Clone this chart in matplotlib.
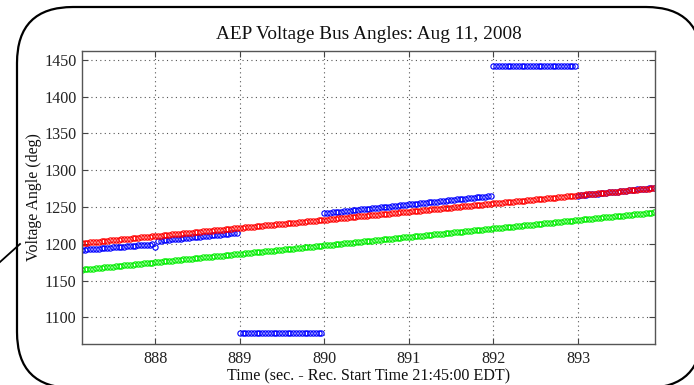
import numpy as np
import matplotlib
matplotlib.use("Agg")
import matplotlib.pyplot as plt
from matplotlib.patches import FancyBboxPatch
from matplotlib.lines import Line2D

# ---------------- data ----------------
title = "AEP Voltage Bus Angles: Aug 11, 2008"
xlabel = "Time (sec. - Rec. Start Time 21:45:00 EDT)"
ylabel = "Voltage Angle (deg)"
x_ticks = [888, 889, 890, 891, 892, 893]
y_ticks = [1100, 1150, 1200, 1250, 1300, 1350, 1400, 1450]

sample_rate = 30          # samples per second
first_sample = 887 + 4 / 30
n_samples = 204
time_s = first_sample + np.arange(n_samples) / sample_rate

red_angle = [
    1201.0, 1201.4, 1201.7, 1202.1, 1202.5, 1202.8, 1203.2, 1203.6, 1204.0, 1204.3,
    1204.7, 1205.1, 1205.4, 1205.8, 1206.2, 1206.5, 1206.9, 1207.3, 1207.6, 1208.0,
    1208.4, 1208.7, 1209.1, 1209.5, 1209.9, 1210.2, 1210.6, 1211.0, 1211.3, 1211.7,
    1212.1, 1212.4, 1212.8, 1213.2, 1213.5, 1213.9, 1214.3, 1214.7, 1215.0, 1215.4,
    1215.8, 1216.1, 1216.5, 1216.9, 1217.2, 1217.6, 1218.0, 1218.3, 1218.7, 1219.1,
    1219.5, 1219.8, 1220.2, 1220.6, 1220.9, 1221.3, 1221.7, 1222.0, 1222.4, 1222.8,
    1223.1, 1223.5, 1223.9, 1224.2, 1224.6, 1225.0, 1225.4, 1225.7, 1226.1, 1226.5,
    1226.8, 1227.2, 1227.6, 1227.9, 1228.3, 1228.7, 1229.0, 1229.4, 1229.8, 1230.2,
    1230.5, 1230.9, 1231.3, 1231.6, 1232.0, 1232.4, 1232.7, 1233.1, 1233.5, 1233.8,
    1234.2, 1234.6, 1234.9, 1235.3, 1235.7, 1236.1, 1236.4, 1236.8, 1237.2, 1237.5,
    1237.9, 1238.3, 1238.6, 1239.0, 1239.4, 1239.7, 1240.1, 1240.5, 1240.9, 1241.2,
    1241.6, 1242.0, 1242.3, 1242.7, 1243.1, 1243.4, 1243.8, 1244.2, 1244.5, 1244.9,
    1245.3, 1245.6, 1246.0, 1246.4, 1246.8, 1247.1, 1247.5, 1247.9, 1248.2, 1248.6,
    1249.0, 1249.3, 1249.7, 1250.1, 1250.4, 1250.8, 1251.2, 1251.6, 1251.9, 1252.3,
    1252.7, 1253.0, 1253.4, 1253.8, 1254.1, 1254.5, 1254.9, 1255.2, 1255.6, 1256.0,
    1256.4, 1256.7, 1257.1, 1257.5, 1257.8, 1258.2, 1258.6, 1258.9, 1259.3, 1259.7,
    1260.0, 1260.4, 1260.8, 1261.1, 1261.5, 1261.9, 1262.3, 1262.6, 1263.0, 1263.4,
    1263.7, 1264.1, 1264.5, 1264.8, 1265.2, 1265.6, 1265.9, 1266.3, 1266.7, 1267.1,
    1267.4, 1267.8, 1268.2, 1268.5, 1268.9, 1269.3, 1269.6, 1270.0, 1270.4, 1270.7,
    1271.1, 1271.5, 1271.8, 1272.2, 1272.6, 1273.0, 1273.3, 1273.7, 1274.1, 1274.4,
    1274.8, 1275.2, 1275.5, 1275.9,
]

green_angle = [
    1165.0, 1165.4, 1165.8, 1166.1, 1166.5, 1166.9, 1167.3, 1167.7, 1168.1, 1168.4,
    1168.8, 1169.2, 1169.6, 1170.0, 1170.4, 1170.7, 1171.1, 1171.5, 1171.9, 1172.3,
    1172.7, 1173.0, 1173.4, 1173.8, 1174.2, 1174.6, 1175.0, 1175.3, 1175.7, 1176.1,
    1176.5, 1176.9, 1177.3, 1177.6, 1178.0, 1178.4, 1178.8, 1179.2, 1179.6, 1179.9,
    1180.3, 1180.7, 1181.1, 1181.5, 1181.9, 1182.2, 1182.6, 1183.0, 1183.4, 1183.8,
    1184.2, 1184.5, 1184.9, 1185.3, 1185.7, 1186.1, 1186.4, 1186.8, 1187.2, 1187.6,
    1188.0, 1188.4, 1188.7, 1189.1, 1189.5, 1189.9, 1190.3, 1190.7, 1191.0, 1191.4,
    1191.8, 1192.2, 1192.6, 1193.0, 1193.3, 1193.7, 1194.1, 1194.5, 1194.9, 1195.3,
    1195.6, 1196.0, 1196.4, 1196.8, 1197.2, 1197.6, 1197.9, 1198.3, 1198.7, 1199.1,
    1199.5, 1199.9, 1200.2, 1200.6, 1201.0, 1201.4, 1201.8, 1202.2, 1202.5, 1202.9,
    1203.3, 1203.7, 1204.1, 1204.4, 1204.8, 1205.2, 1205.6, 1206.0, 1206.4, 1206.7,
    1207.1, 1207.5, 1207.9, 1208.3, 1208.7, 1209.0, 1209.4, 1209.8, 1210.2, 1210.6,
    1211.0, 1211.3, 1211.7, 1212.1, 1212.5, 1212.9, 1213.3, 1213.6, 1214.0, 1214.4,
    1214.8, 1215.2, 1215.6, 1215.9, 1216.3, 1216.7, 1217.1, 1217.5, 1217.9, 1218.2,
    1218.6, 1219.0, 1219.4, 1219.8, 1220.2, 1220.5, 1220.9, 1221.3, 1221.7, 1222.1,
    1222.5, 1222.8, 1223.2, 1223.6, 1224.0, 1224.4, 1224.7, 1225.1, 1225.5, 1225.9,
    1226.3, 1226.7, 1227.0, 1227.4, 1227.8, 1228.2, 1228.6, 1229.0, 1229.3, 1229.7,
    1230.1, 1230.5, 1230.9, 1231.3, 1231.6, 1232.0, 1232.4, 1232.8, 1233.2, 1233.6,
    1233.9, 1234.3, 1234.7, 1235.1, 1235.5, 1235.9, 1236.2, 1236.6, 1237.0, 1237.4,
    1237.8, 1238.2, 1238.5, 1238.9, 1239.3, 1239.7, 1240.1, 1240.5, 1240.8, 1241.2,
    1241.6, 1242.0, 1242.4, 1242.7,
]

blue_angle = (
    [1192.0, 1192.3, 1192.6, 1192.9, 1193.2, 1193.5, 1193.7, 1194.0, 1194.3, 1194.6,
     1194.9, 1195.2, 1195.5, 1195.8, 1196.1, 1196.4, 1196.6, 1196.9, 1197.2, 1197.5,
     1197.8, 1198.1, 1198.4, 1198.7, 1199.0, 1199.3]
    + [1196.0]
    + [1204.0, 1204.4, 1204.8, 1205.2, 1205.6, 1206.0, 1206.3, 1206.7, 1207.1, 1207.5,
       1207.9, 1208.3, 1208.7, 1209.1, 1209.5, 1209.9, 1210.2, 1210.6, 1211.0, 1211.4,
       1211.8, 1212.2, 1212.6, 1213.0, 1213.4, 1213.8, 1214.1, 1214.5, 1214.9]
    + [1079.0] * 30
    + [1241.5, 1241.9, 1242.3, 1242.7, 1243.1, 1243.5, 1243.9, 1244.3, 1244.7, 1245.1,
       1245.5, 1245.9, 1246.3, 1246.7, 1247.1, 1247.5, 1247.9, 1248.3, 1248.7, 1249.1,
       1249.5, 1249.9, 1250.3, 1250.7, 1251.1, 1251.5, 1251.9, 1252.3, 1252.7, 1253.1,
       1253.5, 1253.9, 1254.3, 1254.7, 1255.1, 1255.5, 1255.9, 1256.3, 1256.7, 1257.1,
       1257.5, 1257.9, 1258.3, 1258.7, 1259.1, 1259.5, 1259.9, 1260.3, 1260.7, 1261.1,
       1261.5, 1261.9, 1262.3, 1262.7, 1263.1, 1263.5, 1263.9, 1264.3, 1264.7, 1265.1]
    + [1441.0] * 30
    + [1265.5, 1265.9, 1266.3, 1266.7, 1267.1, 1267.5, 1267.9, 1268.3, 1268.7, 1269.1,
       1269.5, 1269.9, 1270.3, 1270.7, 1271.1, 1271.5, 1271.9, 1272.3, 1272.7, 1273.1,
       1273.5, 1273.9, 1274.3, 1274.7, 1275.1, 1275.5, 1275.9, 1276.3]
)

# ---------------- figure ----------------
plt.rcParams['font.family'] = ['Liberation Serif', 'DejaVu Serif']
W, H = 6.94, 3.85
fig = plt.figure(figsize=(W, H), dpi=100)
fig.patch.set_facecolor('white')

# rounded callout box (in inches, origin bottom-left)
box = FancyBboxPatch((0.17, -0.03), 6.85, 3.81,
                     boxstyle="round,pad=0,rounding_size=0.56",
                     transform=fig.dpi_scale_trans, facecolor='white',
                     edgecolor='black', linewidth=1.6, clip_on=False, zorder=0)
fig.add_artist(box)
fig.add_artist(Line2D([0.0, 0.2], [H - 2.62, H - 2.44], color='black',
                      linewidth=1.3, transform=fig.dpi_scale_trans))

ax = fig.add_axes([82 / 694, 41 / 385, (655 - 82) / 694, (344 - 51) / 385])
ax.set_facecolor('white')

mk = dict(linestyle='none', marker='o', markersize=3.8, markerfacecolor='none',
          markeredgewidth=0.8)
ax.plot(time_s, blue_angle, color='#0000ff', **mk)
ax.plot(time_s, red_angle, color='#ff0000', **mk)
ax.plot(time_s, green_angle, color='#00ee00', **mk)

ax.set_xlim(887.135, 893.91)
ax.set_ylim(1064, 1462)
ax.set_xticks(x_ticks)
ax.set_yticks(y_ticks)
ax.set_xticklabels([str(v) for v in x_ticks])
ax.set_yticklabels([str(v) for v in y_ticks])

ax.grid(True, linestyle=(0, (1, 3)), color='#555555', linewidth=0.8)
ax.tick_params(direction='in', top=True, right=True, length=4, width=0.8,
               color='#444444', labelsize=11.6, labelcolor='#222222')
ax.tick_params(axis='x', pad=5)
ax.tick_params(axis='y', pad=4)
for s in ax.spines.values():
    s.set_color('#555555')
    s.set_linewidth(1.0)

ax.set_title(title, fontsize=13.9, pad=8.5, color='#111111')
ax.set_xlabel(xlabel, fontsize=11.6, labelpad=1, color='#111111')
ax.set_ylabel(ylabel, fontsize=11.5, labelpad=1.5, color='#111111')

fig.savefig('out.png', dpi=100)
